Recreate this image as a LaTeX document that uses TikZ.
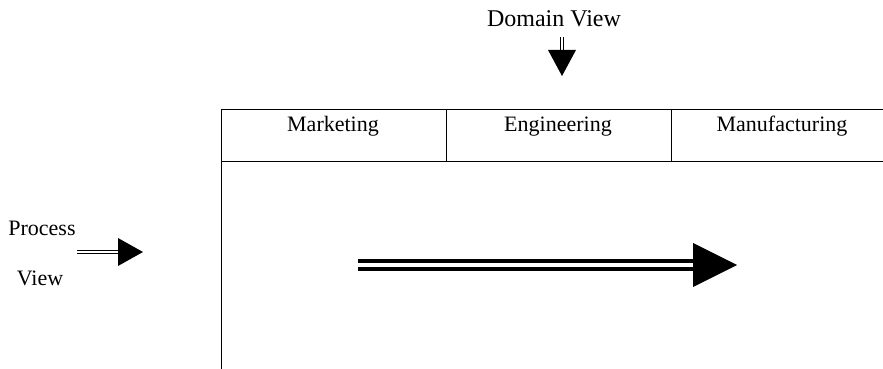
\documentclass[tikz,border=0pt]{standalone}
\usepackage{fontspec}
\setmainfont{Liberation Serif}
\tikzset{
	viewlabel/.style={font=\fontsize{11}{13}\selectfont, inner sep=0pt},
	shaft/.style={double, draw=black, line width=0.6pt, double distance=1pt},
}
\begin{document}
\begin{tikzpicture}[x=0.5pt, y=-0.5pt]
	\useasboundingbox (0,0) rectangle (883,369);
	%\draw[very thin,color=gray] (0,0) grid[step=50] (883,369);
	% Kopfzeile der Tabelle
	\draw (221,369) -- (221,109) -- (883,109);
	\draw (221,161) -- (883,161);
	\draw (446,109) -- (446,161);
	\draw (671,109) -- (671,161);
	\node[viewlabel, anchor=base] (mkt) at (333,132) {Marketing};
	\node[viewlabel, anchor=base] (eng) at (558,132) {Engineering};
	\node[viewlabel, anchor=base] (man) at (782,132) {Manufacturing};
	% Domain View
	\node[viewlabel, font=\fontsize{12}{14}\selectfont, anchor=base] (dom) at (554,27) {Domain View};
	\coordinate (domA) at (562,37);
	\coordinate (domB) at (562,52);
	\draw[shaft] (domA) -- (domB);
	\fill (548,50) -- (576,50) -- (562,76) -- cycle;
	% Process View
	\node[viewlabel] (proc) at (42,228) {Process};
	\node[viewlabel] (view) at (40,278) {View};
	\coordinate (procA) at (77,252);
	\coordinate (procB) at (120,252);
	\draw[shaft] (procA) -- (procB);
	\fill (118,238) -- (143,252) -- (118,266) -- cycle;
	% Ablauf
	\coordinate (flowA) at (358,265);
	\coordinate (flowB) at (696,265);
	\draw[shaft, line width=2pt, double distance=2pt] (flowA) -- (flowB);
	\fill (693,243) -- (737,265) -- (693,287) -- cycle;
\end{tikzpicture}
\end{document}
